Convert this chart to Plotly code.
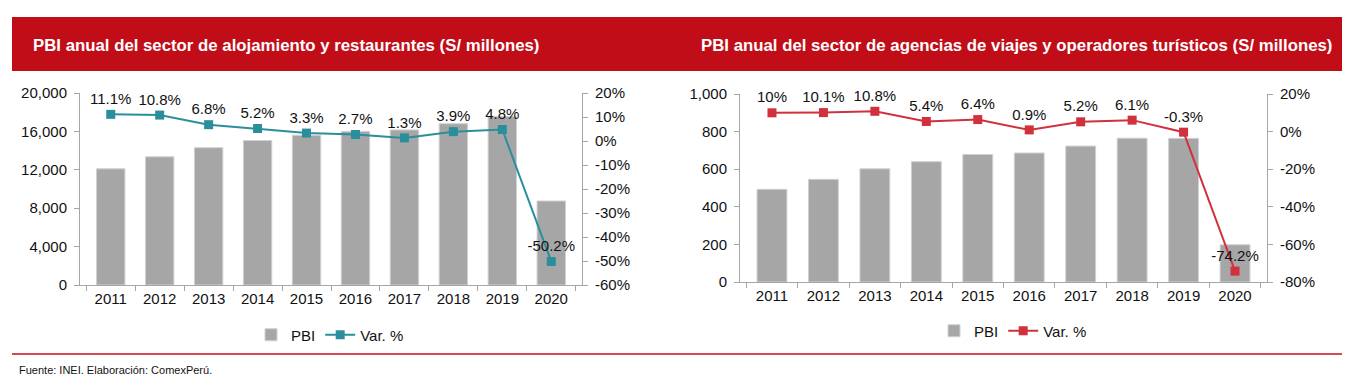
import plotly.graph_objects as go
from plotly.subplots import make_subplots

years = ["2011", "2012", "2013", "2014", "2015", "2016", "2017", "2018", "2019", "2020"]

# Left chart: alojamiento y restaurantes
pbi_aloj = [12100, 13350, 14300, 15050, 15600, 16000, 16150, 16800, 17550, 8750]
var_aloj = [11.1, 10.8, 6.8, 5.2, 3.3, 2.7, 1.3, 3.9, 4.8, -50.2]

# Right chart: agencias de viajes y operadores turisticos
pbi_agen = [493, 546, 602, 640, 678, 686, 723, 765, 764, 198]
var_agen = [10.0, 10.1, 10.8, 5.4, 6.4, 0.9, 5.2, 6.1, -0.3, -74.2]

# Secondary axis ticks (percent)
pct_ticks_left = [-60, -50, -40, -30, -20, -10, 0, 10, 20]
pct_ticks_right = [-80, -60, -40, -20, 0, 20]

title_left = "PBI anual del sector de alojamiento y restaurantes (S/ millones)"
title_right = "PBI anual del sector de agencias de viajes y operadores turísticos (S/ millones)"
source = "Fuente: INEI. Elaboración: ComexPerú."

W, H = 1367, 390
OFF = 8  # page body margin
FONT = "Liberation Sans Narrow, Arial Narrow, Liberation Sans, Arial, sans-serif"
BAR = "#a6a6a6"
TEAL = "#2a8f9c"
RED = "#d0313d"
HEAD = "#c00d17"
AX = "#a6a6a6"


def px(x):
    return (x - OFF) / W


def py(y):
    return 1 - (y - OFF) / H


def fmt(v):
    s = f"{v:.1f}"
    if s.endswith(".0"):
        s = s[:-2]
    return s + "%"


fig = make_subplots(rows=1, cols=2, specs=[[{"secondary_y": True}, {"secondary_y": True}]])

fig.add_trace(go.Bar(x=years, y=pbi_aloj, name="PBI", marker=dict(color=BAR, line=dict(color="#d0d0d0", width=1)),
                     legend="legend"), row=1, col=1, secondary_y=False)
fig.add_trace(go.Scatter(x=years, y=var_aloj, name="Var. %", mode="lines+markers+text", cliponaxis=False,
                         line=dict(color=TEAL, width=2), marker=dict(symbol="square", size=9, color=TEAL),
                         text=[fmt(v) for v in var_aloj], textposition="top center",
                         textfont=dict(size=15, color="#111111", family=FONT), legend="legend"),
              row=1, col=1, secondary_y=True)

fig.add_trace(go.Bar(x=years, y=pbi_agen, name="PBI", marker=dict(color=BAR, line=dict(color="#d0d0d0", width=1)),
                     legend="legend2"), row=1, col=2, secondary_y=False)
fig.add_trace(go.Scatter(x=years, y=var_agen, name="Var. %", mode="lines+markers+text", cliponaxis=False,
                         line=dict(color=RED, width=2), marker=dict(symbol="square", size=9, color=RED),
                         text=[fmt(v) for v in var_agen], textposition="top center",
                         textfont=dict(size=15, color="#111111", family=FONT), legend="legend2"),
              row=1, col=2, secondary_y=True)

axcommon = dict(showgrid=False, zeroline=False, showline=True, linecolor=AX, linewidth=1, automargin=False,
                ticks="outside", ticklen=5, tickcolor=AX, tickfont=dict(size=15, color="#111111", family=FONT))
yextra = dict(ticklabelstandoff=4)

fig.update_layout(
    template="none",
    width=W, height=H, margin=dict(l=0, r=0, t=0, b=0, pad=0), autosize=False,
    paper_bgcolor="white", plot_bgcolor="white",
    font=dict(family=FONT, size=15, color="#111111"),
    bargap=0.42,
    xaxis=dict(domain=[px(80), px(582)], type="category", tickson="boundaries", **axcommon),
    xaxis2=dict(domain=[px(740), px(1267)], type="category", tickson="boundaries", **axcommon),
    yaxis=dict(domain=[py(285), py(93)], range=[0, 20000], dtick=4000, tickformat=",", **axcommon, **yextra),
    yaxis2=dict(range=[-60, 20], tickvals=pct_ticks_left, ticktext=[f"{v}%" for v in pct_ticks_left],
                **axcommon, **yextra),
    yaxis3=dict(domain=[py(282), py(94)], range=[0, 1000], dtick=200, tickformat=",", **axcommon, **yextra),
    yaxis4=dict(range=[-80, 20], tickvals=pct_ticks_right, ticktext=[f"{v}%" for v in pct_ticks_right],
                **axcommon, **yextra),
    legend=dict(orientation="h", x=px(330), y=py(335), xanchor="center", yanchor="middle",
                font=dict(size=15, family=FONT), itemwidth=30, tracegroupgap=0, bgcolor="rgba(0,0,0,0)"),
    legend2=dict(orientation="h", x=px(1013), y=py(331), xanchor="center", yanchor="middle",
                 font=dict(size=15, family=FONT), itemwidth=30, tracegroupgap=0, bgcolor="rgba(0,0,0,0)"),
    showlegend=True,
)
fig.update_layout(yaxis3=dict(anchor="x2"), yaxis4=dict(anchor="x2", overlaying="y3", side="right"),
                  yaxis2=dict(anchor="x", overlaying="y", side="right"))

shapes = [
    dict(type="rect", xref="paper", yref="paper", x0=px(12), x1=px(683), y0=py(71), y1=py(17),
         fillcolor=HEAD, line=dict(width=0), layer="below"),
    dict(type="rect", xref="paper", yref="paper", x0=px(683), x1=px(1342), y0=py(71), y1=py(17),
         fillcolor=HEAD, line=dict(width=0), layer="below"),
    dict(type="line", xref="paper", yref="paper", x0=px(12), x1=px(1342), y0=py(354), y1=py(354),
         line=dict(color="#d9464f", width=2)),
]
fig.update_layout(shapes=shapes)

fig.add_annotation(text="<b>" + title_left + "</b>", xref="paper", yref="paper", x=px(31), y=py(45),
                   xanchor="left", yanchor="middle", showarrow=False,
                   font=dict(size=16.8, color="white", family="Liberation Sans, Arial, sans-serif"))
fig.add_annotation(text="<b>" + title_right + "</b>", xref="paper", yref="paper", x=px(699), y=py(45),
                   xanchor="left", yanchor="middle", showarrow=False,
                   font=dict(size=16.8, color="white", family="Liberation Sans, Arial, sans-serif"))
fig.add_annotation(text=source, xref="paper", yref="paper", x=px(17), y=py(370),
                   xanchor="left", yanchor="middle", showarrow=False,
                   font=dict(size=11, color="#111111", family="Liberation Sans, Arial, sans-serif"))

fig.write_html("out.html")
